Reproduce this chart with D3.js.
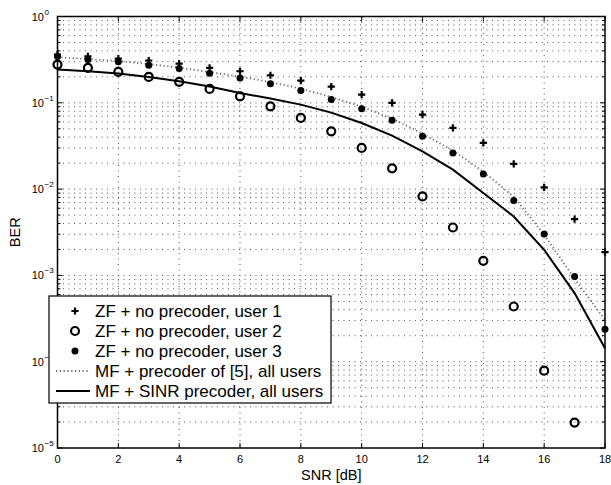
<!DOCTYPE html>
<html><head><meta charset="utf-8">
<script src="https://cdn.jsdelivr.net/npm/d3@7"></script>
<style>body{margin:0;background:#fff}svg{display:block;font-family:"Liberation Sans",Arial,sans-serif}</style>
</head><body><svg id="c" width="611" height="485"></svg>
<script>
const snr = d3.range(0, 19);
const user1 = [0.362,0.346,0.326,0.309,0.285,0.254,0.232,0.2085,0.181,0.154,0.1245,0.0997,0.073,0.0511,0.0343,0.01955,0.01046,0.0045,0.001864];
const user2 = [0.277,0.254,0.228,0.1997,0.1748,0.1449,0.119,0.0911,0.0668,0.0467,0.030,0.01739,0.00823,0.00359,0.001477,0.000436,0.0000788,0.0000197];
const user3 = [0.3436,0.317,0.2982,0.2723,0.2492,0.2199,0.1944,0.1657,0.1385,0.1089,0.0856,0.0627,0.0409,0.0262,0.01497,0.00739,0.00301,0.000971,0.000238];
const mfRef = [0.339,0.321,0.305,0.281,0.256,0.227,0.201,0.174,0.146,0.1164,0.0903,0.0656,0.0439,0.0279,0.0159,0.00816,0.00296,0.000913,0.000305];
const mfSinr = [0.2427,0.2319,0.2182,0.1987,0.1776,0.1541,0.1302,0.1119,0.0953,0.077,0.0584,0.0416,0.0274,0.0168,0.00901,0.00482,0.00198,0.000623,0.000143];
const xTicks = [0,2,4,6,8,10,12,14,16,18];
const yDecades = [0,-1,-2,-3,-4,-5];
const legendLabels = ["ZF + no precoder, user 1","ZF + no precoder, user 2","ZF + no precoder, user 3","MF + precoder of [5], all users","MF + SINR precoder, all users"];

const L=57.5, R=605, T=16.5, B=448;
const svg = d3.select("#c");
const x = d3.scaleLinear().domain([0,18]).range([L,R]);
const y = d3.scaleLog().domain([1e-5,1]).range([B,T]);

const minorY = [];
yDecades.slice(1).forEach(k=>{ for(let m=1;m<10;m++){ const v=m*Math.pow(10,k); if(v>1e-5&&v<1) minorY.push(v);} });
const g = svg.append("g");
g.selectAll(".hg").data(minorY).join("line")
  .attr("x1",L).attr("x2",R).attr("y1",d=>y(d)).attr("y2",d=>y(d))
  .attr("stroke","#555").attr("stroke-width",1).attr("stroke-dasharray","1,4.5");
g.selectAll(".vg").data(xTicks.slice(1,-1)).join("line")
  .attr("x1",d=>x(d)).attr("x2",d=>x(d)).attr("y1",T).attr("y2",B)
  .attr("stroke","#555").attr("stroke-width",1).attr("stroke-dasharray","1,4.5");

const line = d3.line().x((d,i)=>x(snr[i])).y(d=>y(d));
svg.append("path").datum(mfRef).attr("d",line).attr("fill","none")
  .attr("stroke","#666").attr("stroke-width",1.8).attr("stroke-dasharray","1.2,2.6");
svg.append("path").datum(mfSinr).attr("d",line).attr("fill","none")
  .attr("stroke","#000").attr("stroke-width",2);

const mk = svg.append("g");
function plus(sel,cx,cy,s){ sel.append("path").attr("d",`M${cx-s},${cy}H${cx+s}M${cx},${cy-s}V${cy+s}`).attr("stroke","#000").attr("stroke-width",2.2).attr("fill","none"); }
user1.forEach((v,i)=>plus(mk,x(snr[i]),y(v),3.6));
mk.selectAll(".c2").data(user2).join("circle").attr("cx",(d,i)=>x(snr[i])).attr("cy",d=>y(d)).attr("r",4)
  .attr("fill","none").attr("stroke","#000").attr("stroke-width",2.2);
mk.selectAll(".c3").data(user3).join("circle").attr("cx",(d,i)=>x(snr[i])).attr("cy",d=>y(d)).attr("r",3.5)
  .attr("fill","#000");

const ax = svg.append("g");
ax.append("rect").attr("x",L).attr("y",T).attr("width",R-L).attr("height",B-T).attr("fill","none").attr("stroke","#000").attr("stroke-width",1.5);
xTicks.forEach(t=>{
  ax.append("line").attr("x1",x(t)).attr("x2",x(t)).attr("y1",B).attr("y2",B-5).attr("stroke","#000");
  ax.append("line").attr("x1",x(t)).attr("x2",x(t)).attr("y1",T).attr("y2",T+5).attr("stroke","#000");
  ax.append("text").attr("x",x(t)).attr("y",463).attr("text-anchor","middle").attr("font-size",11).text(t);
});
minorY.concat([1e-5,1]).forEach(v=>{
  const major = Math.abs(Math.log10(v)-Math.round(Math.log10(v)))<1e-9;
  const len = major?5:3;
  ax.append("line").attr("x1",L).attr("x2",L+len).attr("y1",y(v)).attr("y2",y(v)).attr("stroke","#000");
  ax.append("line").attr("x1",R).attr("x2",R-len).attr("y1",y(v)).attr("y2",y(v)).attr("stroke","#000");
});
yDecades.forEach(k=>{
  const yy=y(Math.pow(10,k));
  ax.append("text").attr("x",44).attr("y",yy+4).attr("text-anchor","end").attr("font-size",11).text("10");
  ax.append("text").attr("x",44.5).attr("y",yy-2).attr("font-size",8).text(k===0?"0":"\u2212"+(-k));
});
svg.append("text").attr("x",(L+R)/2).attr("y",480).attr("text-anchor","middle").attr("font-size",14.5).text("SNR [dB]");
svg.append("text").attr("transform",`translate(20,${(T+B)/2}) rotate(-90)`).attr("text-anchor","middle").attr("font-size",14.5).text("BER");

const lg = svg.append("g");
lg.append("rect").attr("x",49).attr("y",296).attr("width",282).attr("height",107).attr("fill","#fff").attr("stroke","#000").attr("stroke-width",1.2);
legendLabels.forEach((lab,i)=>{
  const cy = 311 + i*20;
  if(i===0) plus(lg,75,cy,3.6);
  if(i===1) lg.append("circle").attr("cx",75).attr("cy",cy).attr("r",4).attr("fill","none").attr("stroke","#000").attr("stroke-width",2.2);
  if(i===2) lg.append("circle").attr("cx",75).attr("cy",cy).attr("r",3.5).attr("fill","#000");
  if(i===3) lg.append("line").attr("x1",56).attr("x2",90).attr("y1",cy).attr("y2",cy).attr("stroke","#666").attr("stroke-width",1.8).attr("stroke-dasharray","1.2,2.6");
  if(i===4) lg.append("line").attr("x1",56).attr("x2",90).attr("y1",cy).attr("y2",cy).attr("stroke","#000").attr("stroke-width",2);
  lg.append("text").attr("x",95).attr("y",cy+6).attr("font-size",17).text(lab);
});
</script></body></html>
